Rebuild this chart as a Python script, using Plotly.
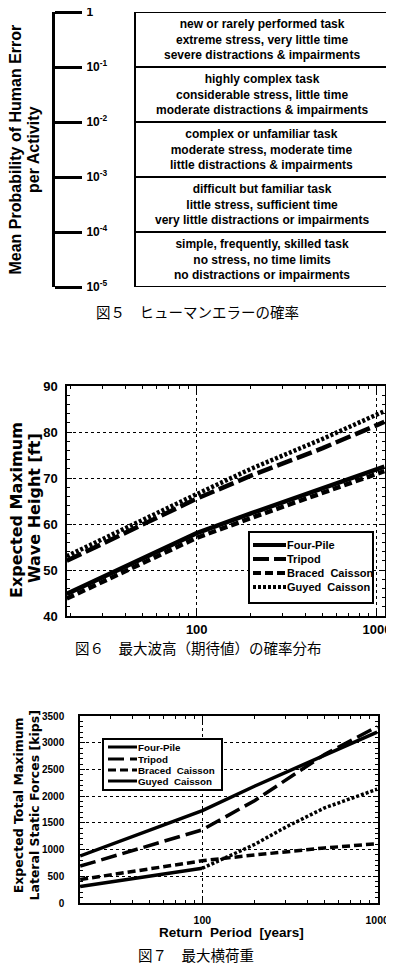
import plotly.graph_objects as go

# ---------------- Fig.5 : human error probability ----------------
prob_exponents = [0, -1, -2, -3, -4, -5]
prob_ticktext = ["1", "10<sup>-1</sup>", "10<sup>-2</sup>", "10<sup>-3</sup>",
                 "10<sup>-4</sup>", "10<sup>-5</sup>"]
band_upper = [0, -1, -2, -3, -4]
band_lower = [-1, -2, -3, -4, -5]
band_text = [
    "new or rarely performed task<br>extreme stress, very little time<br>severe distractions & impairments",
    "highly complex task<br>considerable stress, little time<br>moderate distractions & impairments",
    "complex or unfamiliar task<br>moderate stress, moderate time<br>little distractions & impairments",
    "difficult but familiar task<br>little stress, sufficient time<br>very little distractions or impairments",
    "simple, frequently, skilled task<br>no stress, no time limits<br>no distractions or impairments",
]

# ---------------- Fig.6 : expected maximum wave height ----------------
series_names = ["Four-Pile", "Tripod", "Braced  Caisson", "Guyed  Caisson"]
rp6 = [19, 50, 100, 200, 500, 1000, 1100]
wave_four_pile = [44.8, 52.4, 58.0, 62.3, 67.8, 72.0, 72.5]
wave_tripod = [52.0, 60.0, 65.5, 70.5, 76.5, 81.5, 82.2]
wave_braced = [43.8, 51.5, 57.0, 61.3, 66.8, 71.0, 71.5]
wave_guyed = [53.0, 61.0, 66.5, 72.0, 78.5, 83.8, 84.5]
wave_ticks = [40, 50, 60, 70, 80, 90]

# ---------------- Fig.7 : expected total maximum lateral static force ----------------
rp7 = [20, 100, 200, 300, 500, 1000]
force_four_pile = [880, 1730, 2190, 2440, 2770, 3200]
force_tripod = [690, 1370, 1920, 2300, 2780, 3300]
force_braced = [440, 790, 900, 960, 1030, 1110]
force_guyed = [310, 650, 1100, 1420, 1780, 2130]
force_ticks = [0, 500, 1000, 1500, 2000, 2500, 3000, 3500]

rp_ticks = [100, 1000]
rp_minor = [20, 30, 40, 50, 60, 70, 80, 90, 200, 300, 400, 500, 600, 700, 800, 900]

# the page body has an 8px margin: the figure is sized and laid out so that
# page pixel positions match the reference
OFF = 8
W, H = 394 - OFF, 964 - OFF
FONT = "Liberation Sans"
WIDE = "DejaVu Sans"
JP = "Noto Sans CJK JP"


def px(x):
    return (x - OFF) / W


def py(y):
    return 1 - (y - OFF) / H


dashes6 = {"Four-Pile": "solid", "Tripod": "16px,5px",
           "Braced  Caisson": "8px,4px", "Guyed  Caisson": "3px,2px"}
dashes7 = {"Four-Pile": "solid", "Tripod": "16px,6px",
           "Braced  Caisson": "8px,4px", "Guyed  Caisson": "solid"}

fig = go.Figure()

# Fig.6 traces
for name, vals in zip(series_names, [wave_four_pile, wave_tripod, wave_braced, wave_guyed]):
    fig.add_trace(go.Scatter(x=rp6, y=vals, mode="lines", name=name, showlegend=False,
                             line=dict(color="black", width=4.5, dash=dashes6[name]),
                             xaxis="x", yaxis="y"))

# Fig.7 traces
for name, vals in zip(series_names[:3], [force_four_pile, force_tripod, force_braced]):
    fig.add_trace(go.Scatter(x=rp7, y=vals, mode="lines", name=name, showlegend=False,
                             line=dict(color="black", width=3.5, dash=dashes7[name]),
                             xaxis="x2", yaxis="y2"))
# Guyed caisson: solid up to 100 years, dotted beyond
fig.add_trace(go.Scatter(x=rp7[:2], y=force_guyed[:2], mode="lines", name=series_names[3],
                         showlegend=False, line=dict(color="black", width=3.5),
                         xaxis="x2", yaxis="y2"))
fig.add_trace(go.Scatter(x=rp7[1:], y=force_guyed[1:], mode="lines", name=series_names[3],
                         line=dict(color="black", width=3.5, dash="3px,2px"),
                         showlegend=False, xaxis="x2", yaxis="y2"))

# Fig.5 invisible anchor trace
fig.add_trace(go.Scatter(x=[0, 1], y=[prob_exponents[0], prob_exponents[-1]], mode="markers",
                         marker=dict(opacity=0), showlegend=False, hoverinfo="skip",
                         xaxis="x3", yaxis="y3"))

frame = dict(showline=True, linecolor="black", linewidth=1.5, mirror="allticks",
             ticks="inside", tickcolor="black", tickwidth=1, zeroline=False, automargin=False)

shapes = []
annotations = []

# ---- Fig.5 boxes and texts ----
bx0, bx1 = px(135), px(388)
shapes.append(dict(type="rect", xref="paper", yref="y3", x0=bx0, x1=bx1,
                   y0=prob_exponents[-1], y1=prob_exponents[0],
                   line=dict(color="black", width=2)))
for up, lo, txt in zip(band_upper, band_lower, band_text):
    if lo != prob_exponents[-1]:
        shapes.append(dict(type="line", xref="paper", yref="y3", x0=bx0, x1=bx1,
                           y0=lo, y1=lo, line=dict(color="black", width=2)))
    annotations.append(dict(xref="paper", yref="y3", x=(bx0 + bx1) / 2, y=(up + lo) / 2,
                            text=txt, showarrow=False, xanchor="center", yanchor="middle",
                            borderpad=0,
                            font=dict(family=FONT, size=12, color="black", weight="bold")))


def label(x, y, text, size, family=FONT, bold=True, angle=0):
    f = dict(family=family, size=size, color="black")
    if bold:
        f["weight"] = "bold"
    return dict(xref="paper", yref="paper", x=px(x), y=py(y), text=text, showarrow=False,
                xanchor="center", yanchor="middle", textangle=angle, font=f)


annotations += [
    label(15.5, 150, "Mean Probability of Human Error", 16, angle=-90),
    label(34, 150, "per Activity", 16, angle=-90),
    label(197, 312, "図５　ヒューマンエラーの確率", 14.5, family=JP, bold=False),
    label(17, 510, "Expected Maximum", 16, family=WIDE, angle=-90),
    label(34, 508, "Wave Height [ft]", 16, family=WIDE, angle=-90),
    label(198, 647, "図６　最大波高（期待値）の確率分布", 14.5, family=JP, bold=False),
    label(25.5, 806, "Expected Total Maximum<br>Lateral Static Forces [kips]", 12.5,
          family=WIDE, angle=-90),
    label(231, 932, "Return  Period  [years]", 13.5),
    label(196, 954, "図７　最大横荷重", 14.5, family=JP, bold=False),
]


# ---- manual legends (compact, as in the reference) ----
def add_legend(box, rows, sym, text_x, fsize, lwidth, dashes):
    x0, x1, y0, y1 = box
    shapes.append(dict(type="rect", xref="paper", yref="paper", x0=px(x0), x1=px(x1),
                       y0=py(y1), y1=py(y0), fillcolor="white",
                       line=dict(color="black", width=2), layer="above"))
    for name, yy in zip(series_names, rows):
        shapes.append(dict(type="line", xref="paper", yref="paper", x0=px(sym[0]), x1=px(sym[1]),
                           y0=py(yy), y1=py(yy), layer="above",
                           line=dict(color="black", width=lwidth, dash=dashes[name])))
        annotations.append(dict(xref="paper", yref="paper", x=px(text_x), y=py(yy), text=name,
                                showarrow=False, xanchor="left", yanchor="middle",
                                font=dict(family=FONT, size=fsize, color="black", weight="bold")))


add_legend((249, 373, 532, 603), [545, 559, 573, 587], (253, 286), 285, 11, 4, dashes6)
add_legend((103, 222, 739, 790), [747, 759, 770, 781], (108, 137), 136, 9.8, 3, dashes7)

fig.update_layout(
    width=W, height=H, margin=dict(l=0, r=0, t=0, b=0, autoexpand=False),
    paper_bgcolor="white", plot_bgcolor="white",
    showlegend=False,
    # Fig.6 axes
    xaxis=dict(domain=[px(67), px(385)], anchor="y", type="log", range=[1.28, 3.045],
               tickvals=rp_ticks, ticktext=[str(v) for v in rp_ticks], ticklen=6,
               showgrid=True, gridcolor="black", griddash="dot", gridwidth=1,
               minor=dict(tickvals=rp_minor, ticks="inside", ticklen=3, tickcolor="black",
                          showgrid=False),
               tickfont=dict(family=FONT, size=13, color="black", weight="bold"),
               ticklabelstandoff=1, ticklabeloverflow="allow", **frame),
    yaxis=dict(domain=[py(616), py(386)], anchor="x", range=[40, 90],
               tickvals=wave_ticks, ticklen=5,
               showgrid=True, gridcolor="black", griddash="dot", gridwidth=1,
               minor=dict(dtick=2, ticks="inside", ticklen=3, tickcolor="black", showgrid=False),
               tickfont=dict(family=FONT, size=13, color="black", weight="bold"),
               ticklabelstandoff=5, **frame),
    # Fig.7 axes
    xaxis2=dict(domain=[px(80), px(378)], anchor="y2", type="log", range=[1.3, 3.005],
                tickvals=rp_ticks, ticktext=[str(v) for v in rp_ticks], ticklen=6,
                showgrid=True, gridcolor="black", griddash="dot", gridwidth=1,
                minor=dict(tickvals=rp_minor, ticks="inside", ticklen=3, tickcolor="black",
                           showgrid=False),
                tickfont=dict(family=FONT, size=10.5, color="black", weight="bold"),
                ticklabelstandoff=7, ticklabeloverflow="allow", **frame),
    yaxis2=dict(domain=[py(903), py(716)], anchor="x2", range=[0, 3500],
                tickvals=force_ticks, ticklen=5,
                showgrid=True, gridcolor="black", griddash="dot", gridwidth=1,
                minor=dict(dtick=100, ticks="inside", ticklen=3, tickcolor="black", showgrid=False),
                tickfont=dict(family=FONT, size=10, color="black", weight="bold"),
                ticklabelstandoff=12, **frame),
    # Fig.5 axes
    xaxis3=dict(domain=[0, 1], anchor="y3", range=[0, 1], visible=False, automargin=False),
    yaxis3=dict(domain=[py(287), py(12)], anchor="free", position=px(53), side="right",
                range=[prob_exponents[-1], prob_exponents[0]],
                tickvals=prob_exponents, ticktext=prob_ticktext, automargin=False,
                showline=True, linecolor="black", linewidth=3,
                ticks="outside", ticklen=27, tickwidth=3, tickcolor="black",
                showgrid=False, zeroline=False, ticklabelstandoff=2, ticklabeloverflow="allow",
                tickfont=dict(family=FONT, size=12, color="black", weight="bold")),
    shapes=shapes,
    annotations=annotations,
)

fig.write_html("out.html")
